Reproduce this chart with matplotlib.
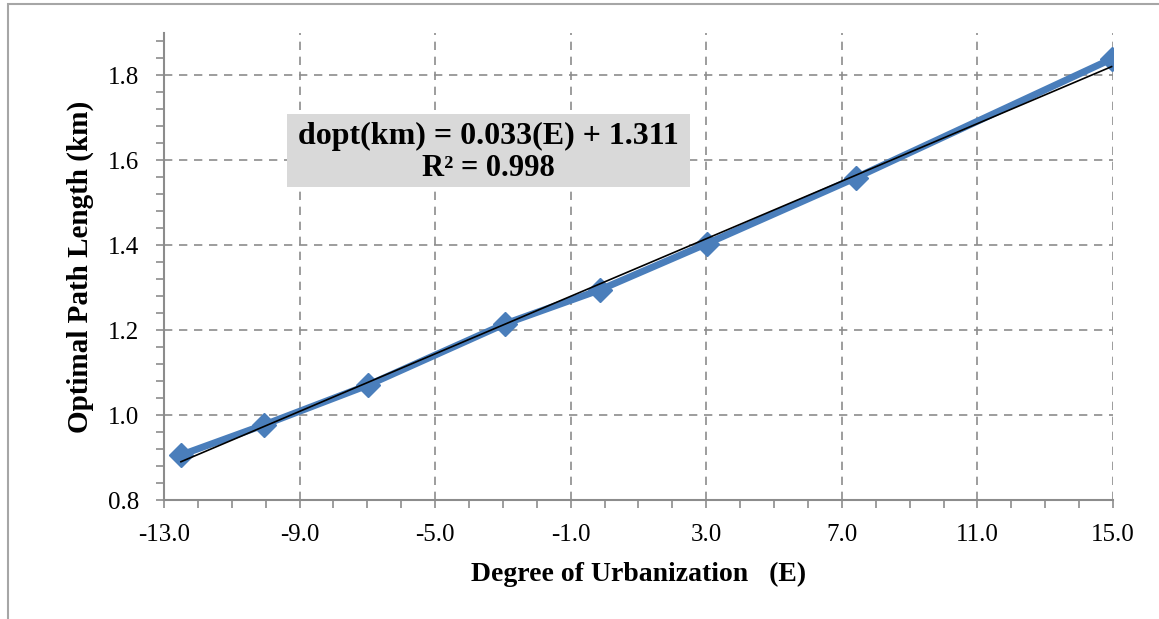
import numpy as np
import matplotlib.pyplot as plt
from matplotlib.ticker import MultipleLocator, FormatStrFormatter
from matplotlib.patches import Rectangle

# data
urbanization = [-12.5, -10.05, -6.97, -2.94, -0.14, 3.02, 7.41, 14.96]
path_length = [0.906, 0.977, 1.071, 1.215, 1.295, 1.404, 1.559, 1.839]
x_ticks = [-13.0, -9.0, -5.0, -1.0, 3.0, 7.0, 11.0, 15.0]

plt.rcParams['font.family'] = ['Liberation Serif', 'DejaVu Serif']

fig = plt.figure(figsize=(11.59, 6.19), dpi=100)
ax = fig.add_axes([0.1415, 0.1922, 0.9603 - 0.1415, 0.9467 - 0.1922])

# outer chart border
fig.patches.append(Rectangle((8 / 1159, -0.01), 1.1, 1 - 4 / 619 + 0.01,
                             transform=fig.transFigure, fill=False,
                             edgecolor='#a6a6a6', linewidth=1.5))

# linear trend line
k, c = np.polyfit(urbanization, path_length, 1)
xt = np.array([urbanization[0], urbanization[-1]])
ax.plot(urbanization, path_length, color='#4a7ebb', linewidth=5,
        marker='D', markersize=12, zorder=3)
ax.plot(xt, k * xt + c, color='black', linewidth=1.2, zorder=4)

ax.set_xlim(-13, 15)
ax.set_ylim(0.8, 1.9)
ax.set_xticks(x_ticks)
ax.xaxis.set_minor_locator(MultipleLocator(1))
ax.yaxis.set_minor_locator(MultipleLocator(0.04))
ax.xaxis.set_major_formatter(FormatStrFormatter('%.1f'))
ax.yaxis.set_major_formatter(FormatStrFormatter('%.1f'))
ax.set_yticks([0.8, 1.0, 1.2, 1.4, 1.6, 1.8])

ax.grid(True, which='major', linestyle=(0, (5, 4)), color='#8c8c8c', linewidth=1.2)
ax.set_axisbelow(True)
for side in ['top', 'right']:
    ax.spines[side].set_visible(False)
for side in ['left', 'bottom']:
    ax.spines[side].set_color('#8c8c8c')
    ax.spines[side].set_linewidth(1.5)
ax.tick_params(which='both', direction='out', color='#8c8c8c', width=1.2, length=6,
               labelsize=18)
ax.tick_params(axis='x', pad=11)
ax.tick_params(axis='y', pad=12)

ax.set_xlabel('Degree of Urbanization   (E)', fontsize=20, fontweight='bold', labelpad=12)
ax.set_ylabel('Optimal Path Length (km)', fontsize=21, fontweight='bold', labelpad=10)

# equation box
fig.patches.append(Rectangle((287 / 1159, 1 - 187 / 619), (690 - 287) / 1159, 73 / 619,
                             transform=fig.transFigure, facecolor='#d9d9d9',
                             edgecolor='none', zorder=5))
fig.text(488 / 1159, 1 - 136 / 619, 'dopt(km) = 0.033(E) + 1.311', ha='center', va='center',
         fontsize=23, fontweight='bold', zorder=6)
fig.text(488 / 1159, 1 - 168 / 619, 'R\u00b2 = 0.998', ha='center', va='center',
         fontsize=22, fontweight='bold', zorder=6)

fig.savefig('out.png', dpi=100)
